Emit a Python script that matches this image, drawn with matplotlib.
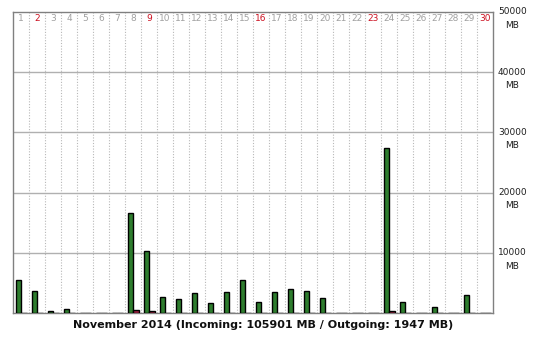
import numpy as np
import matplotlib
matplotlib.use('Agg')
import matplotlib.pyplot as plt

# daily traffic, November 2014 (MB)
days = list(range(1, 31))
incoming = [5530, 3700, 300, 730, 40, 30, 30, 16550, 10330, 2720,
            2380, 3380, 1600, 3540, 5530, 1890, 3540, 4040, 3700, 2550,
            40, 30, 30, 27430, 1770, 40, 1060, 30, 2930, 60]
outgoing = [40, 30, 20, 30, 10, 10, 10, 450, 280, 40,
            40, 50, 30, 40, 60, 30, 40, 50, 40, 30,
            10, 10, 10, 300, 40, 10, 30, 10, 50, 20]
sundays = [2, 9, 16, 23, 30]
yticks = [10000, 20000, 30000, 40000, 50000]
title = "November 2014 (Incoming: 105901 MB / Outgoing: 1947 MB)"

fig = plt.figure(figsize=(5.37, 3.43), dpi=100)
ax = fig.add_axes([13/537, 1 - 313/343, 480/537, 301/343])

x = np.array(days)
ax.bar(x - 0.15, incoming, width=0.36, color='#2e7d2e', edgecolor='black', linewidth=1, zorder=3)
ax.bar(x + 0.2, outgoing, width=0.36, color='#a02040', edgecolor='black', linewidth=1, zorder=3)

ax.set_xlim(0.5, 30.5)
ax.set_ylim(0, 50000)

# vertical dotted separators between days
for b in np.arange(1.5, 30.5, 1):
    ax.axvline(b, color='#b8b8b8', linestyle=(0, (1, 1.5)), linewidth=0.8, zorder=1)
for t in yticks[:-1]:
    ax.axhline(t, color='#b0b0b0', linewidth=1, zorder=1)

for d in days:
    ax.text(d, 48900, str(d), ha='center', va='center', fontsize=6.5,
            color='#cc1020' if d in sundays else '#a0a0a0', zorder=4)

for t in yticks:
    ax.text(30.5 + 1.2, t, f"{t}", ha='center', va='center', fontsize=6.5,
            color='#202020', clip_on=False)
    ax.text(30.5 + 1.2, t - 2200, "MB", ha='center', va='center', fontsize=6.5,
            color='#202020', clip_on=False)

ax.set_xticks([])
ax.set_yticks([])
for s in ax.spines.values():
    s.set_color('#808080')
    s.set_linewidth(1)

fig.text(263/537, 1 - 325/343, title, ha='center', va='center',
         fontsize=8, fontweight='bold', color='#101010')

fig.savefig('out.png', dpi=100)
